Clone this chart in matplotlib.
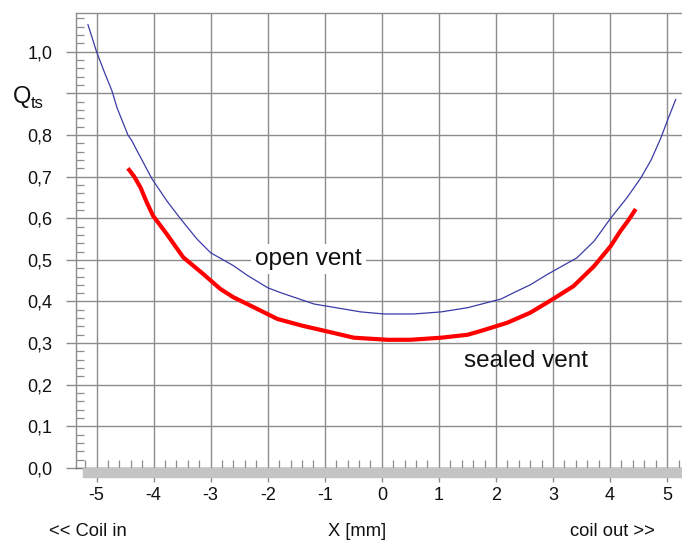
import numpy as np
import matplotlib
matplotlib.use("Agg")
import matplotlib.pyplot as plt
from matplotlib.patches import Rectangle
from matplotlib.ticker import MultipleLocator

plt.rcParams['font.family'] = ['Liberation Sans', 'DejaVu Sans']

# Qts vs. coil position, open vent
x_open = [-5.15, -5.0, -4.86, -4.73, -4.64, -4.45, -4.38, -4.29, -4.03, -3.77,
          -3.53, -3.24, -3.0, -2.6, -2.36, -2.0, -1.77, -1.19, -0.8, -0.37,
          0.04, 0.56, 1.04, 1.5, 2.09, 2.31, 2.6, 2.9, 3.42, 3.72,
          4.01, 4.3, 4.54, 4.72, 4.89, 5.02, 5.15]
q_open = [1.065, 1.0, 0.95, 0.906, 0.865, 0.80, 0.786, 0.762, 0.695, 0.642,
          0.599, 0.55, 0.517, 0.486, 0.463, 0.433, 0.421, 0.394, 0.385, 0.375,
          0.37, 0.37, 0.375, 0.385, 0.406, 0.421, 0.44, 0.465, 0.505, 0.545,
          0.60, 0.65, 0.697, 0.74, 0.793, 0.84, 0.885]

# Qts vs. coil position, sealed vent
x_sealed = [-4.45, -4.34, -4.23, -4.12, -4.01, -3.77, -3.48, -3.13, -2.83, -2.6,
            -2.36, -1.83, -1.4, -1.02, -0.49, 0.1, 0.5, 1.04, 1.5, 1.73,
            2.2, 2.6, 2.99, 3.36, 3.72, 4.01, 4.18, 4.32, 4.45]
q_sealed = [0.72, 0.70, 0.674, 0.638, 0.606, 0.562, 0.506, 0.466, 0.43, 0.41,
            0.394, 0.358, 0.342, 0.33, 0.313, 0.308, 0.308, 0.313, 0.32, 0.329,
            0.349, 0.373, 0.405, 0.437, 0.485, 0.533, 0.569, 0.595, 0.622]

xticks = [-5, -4, -3, -2, -1, 0, 1, 2, 3, 4, 5]
yticks = [0.0, 0.1, 0.2, 0.3, 0.4, 0.5, 0.6, 0.7, 0.8, 0.9, 1.0]
ytick_labels = ['0,0', '0,1', '0,2', '0,3', '0,4', '0,5', '0,6', '0,7', '0,8', '', '1,0']

grid_c = '#8c8c8c'
text_c = '#111111'

fig = plt.figure(figsize=(6.82, 5.43), dpi=100)
ax = fig.add_axes([76/682, 1 - 468/543, 1 - 76/682 + 0.01, (468 - 13)/543])

ax.plot(x_open, q_open, color='#3b3ba6', lw=0.9, zorder=3)
ax.plot(x_sealed, q_sealed, color='#ff0000', lw=3.0, zorder=3,
        solid_capstyle='butt', solid_joinstyle='round')

ax.set_xlim(-5.36, 5.38)
ax.set_ylim(0, 1.093)

ax.set_xticks(xticks)
ax.set_xticklabels([str(t) for t in xticks])
ax.set_yticks(yticks)
ax.set_yticklabels(ytick_labels)
ax.xaxis.set_minor_locator(MultipleLocator(0.2))
ax.yaxis.set_minor_locator(MultipleLocator(0.02))

ax.grid(True, which='major', color=grid_c, lw=1.0)
ax.tick_params(which='major', direction='out', color=grid_c, width=1.0,
               labelsize=13, colors=grid_c, labelcolor=text_c)
ax.tick_params(axis='x', which='major', length=10, pad=4)
ax.tick_params(axis='y', which='major', length=7, pad=10)
ax.tick_params(which='minor', direction='in', length=6, width=0.9, color=grid_c)

for side in ['left', 'top']:
    ax.spines[side].set_color(grid_c)
    ax.spines[side].set_linewidth(1.0)
ax.spines['right'].set_visible(False)
ax.spines['bottom'].set_color('#777777')
ax.spines['bottom'].set_linewidth(1.0)

# shaded strip under the x axis
fig.patches.append(Rectangle((83/682, 1 - 477/543), 1.0, 9/543,
                             transform=fig.transFigure, color='#c4c4c4',
                             zorder=0))

ax.text(-1.29, 0.502, 'open vent', fontsize=17.5, ha='center', va='center',
        color=text_c, zorder=4,
        bbox=dict(facecolor='white', edgecolor='none', pad=3))
ax.text(2.52, 0.257, 'sealed vent', fontsize=17.5, ha='center', va='center',
        color=text_c, zorder=4)

fig.text(13/682, 1 - 97/543, 'Q', fontsize=17, ha='left', va='center',
         color=text_c)
fig.text(31/682, 1 - 104/543, 'ts', fontsize=12, ha='left', va='center',
         color=text_c)

fig.text(49/682, 1 - 531/543, '<< Coil in', fontsize=13.2, ha='left',
         va='center', color=text_c)
fig.text(357/682, 1 - 531/543, 'X [mm]', fontsize=13.2, ha='center',
         va='center', color=text_c)
fig.text(655/682, 1 - 531/543, 'coil out >>', fontsize=13.2, ha='right',
         va='center', color=text_c)

fig.savefig('out.png', dpi=100)
